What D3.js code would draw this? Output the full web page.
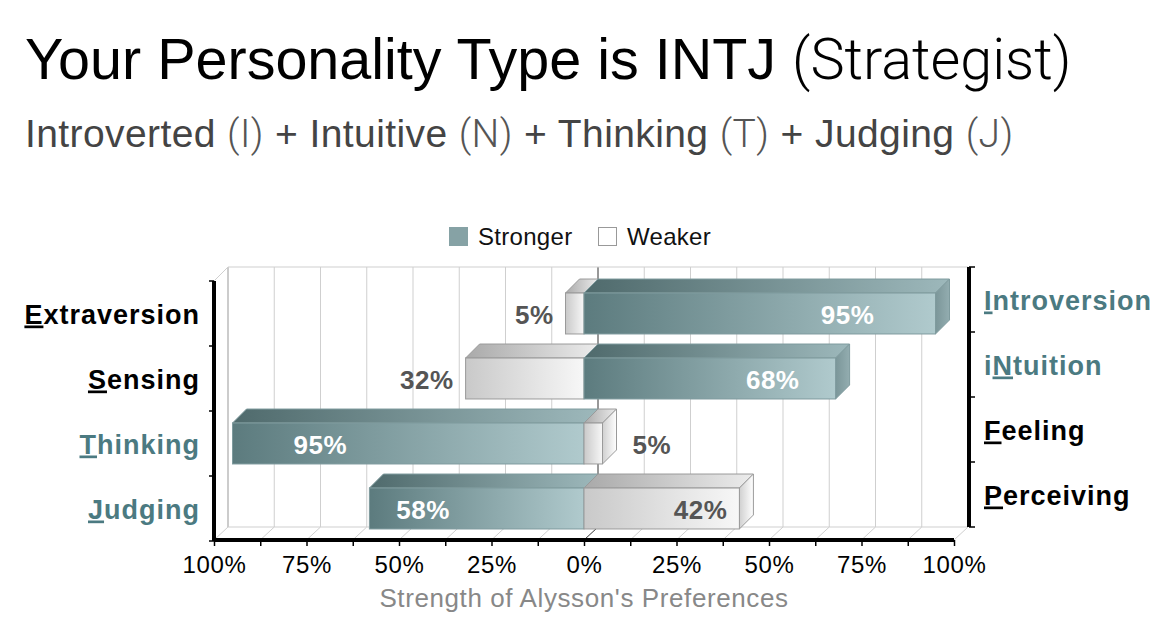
<!DOCTYPE html>
<html>
<head>
<meta charset="utf-8">
<script src="https://cdn.jsdelivr.net/npm/d3@7"></script>
<style>
  body { margin: 0; background: #fff; }
  svg { display: block; }
</style>
</head>
<body>
<div id="chart"></div>
<script>
// DATA
const leftTraits = ["Extraversion", "Sensing", "Thinking", "Judging"];
const rightTraits = ["Introversion", "iNtuition", "Feeling", "Perceiving"];
const leftUnderline = [0, 0, 0, 0];   // index of the underlined letter
const rightUnderline = [0, 1, 0, 0];
const leftPct = [5, 32, 95, 58];
const rightPct = [95, 68, 5, 42];
const tickValues = [-100, -87.5, -75, -62.5, -50, -37.5, -25, -12.5, 0, 12.5, 25, 37.5, 50, 62.5, 75, 87.5, 100];
const tickLabels = [-100, -75, -50, -25, 0, 25, 50, 75, 100];
const legendItems = ["Stronger", "Weaker"];

const width = 1176, height = 630;
const depth = { x: 14, y: 13 };   // fake 3D offset of the back wall
const teal = "#4b7a81";
const font = "Liberation Sans, Arial, sans-serif";

const svg = d3.select("#chart")
  .append("svg")
    .attr("width", width)
    .attr("height", height);

// + GRADIENTS
const defs = svg.append("defs");
function grad(id, c0, c1) {
  const g = defs.append("linearGradient").attr("id", id);
  g.append("stop").attr("offset", "0%").attr("stop-color", c0);
  g.append("stop").attr("offset", "100%").attr("stop-color", c1);
}
grad("strongFront", "#5c7b7e", "#b0cacd");
grad("strongTop", "#4f6a6c", "#9db8bb");
grad("strongSide", "#7b9699", "#93adb0");
grad("weakFront", "#c9c9c9", "#f7f7f7");
grad("weakTop", "#a9a9a9", "#ececec");
grad("weakSide", "#d0d0d0", "#ffffff");

// + SCALES
const xScale = d3.scaleLinear()
  .domain([-100, 100])
  .range([214, 954]);

const yScale = d3.scaleBand()
  .domain(d3.range(leftTraits.length))
  .range([281, 541])
  .paddingInner(0.37)
  .paddingOuter(0.185);

const rowTop = 281, rowBottom = 541;
const step = yScale.step();

// TITLES
const title = svg.append("text")
  .attr("x", 25).attr("y", 79)
  .attr("font-family", font)
  .attr("font-size", 57.5)
  .attr("fill", "#000");
title.append("tspan").text("Your Personality Type is INTJ ");
title.append("tspan")
  .attr("font-family", "Roboto, sans-serif")
  .attr("font-weight", 300)
  .text("(Strategist)");

const subParts = [["Introverted", "(I)"], ["Intuitive", "(N)"], ["Thinking", "(T)"], ["Judging", "(J)"]];
const sub = svg.append("text")
  .attr("x", 25).attr("y", 147)
  .attr("font-family", font)
  .attr("font-size", 39)
  .attr("letter-spacing", 0.4)
  .attr("fill", "#444");
subParts.forEach((p, i) => {
  sub.append("tspan").text(p[0] + " ");
  sub.append("tspan")
    .attr("font-family", "Roboto, sans-serif")
    .attr("font-weight", 300)
    .attr("fill", "#555")
    .text(p[1]);
  if (i < subParts.length - 1) sub.append("tspan").text(" + ");
});

// LEGEND
const legend = svg.append("g")
  .attr("font-family", font)
  .attr("font-size", 24)
  .attr("letter-spacing", 0.3);
const legendX = [449, 598];
legend.selectAll("rect")
  .data(legendItems)
  .join("rect")
    .attr("x", (d, i) => legendX[i] + 0.5)
    .attr("y", 227.5)
    .attr("width", 18)
    .attr("height", 18)
    .attr("fill", (d, i) => i === 0 ? "#86a2a5" : "#fff")
    .attr("stroke", (d, i) => i === 0 ? "#86a2a5" : "#999");
legend.selectAll("text")
  .data(legendItems)
  .join("text")
    .attr("x", (d, i) => legendX[i] + 29)
    .attr("y", 245)
    .attr("fill", "#111")
    .text(d => d);

// BACK WALL + FLOOR GRID
const grid = svg.append("g").attr("fill", "none");
const backTop = rowTop - depth.y - 1, backBottom = rowBottom - depth.y - 1;
grid.selectAll("line.v")
  .data(tickValues)
  .join("line")
    .attr("class", "v")
    .attr("x1", d => xScale(d) + depth.x)
    .attr("x2", d => xScale(d) + depth.x)
    .attr("y1", backTop)
    .attr("y2", backBottom)
    .attr("stroke", d => d === 0 ? "#333" : (d === -100 ? "#999" : "#cfcfcf"))
    .attr("stroke-width", 1);
grid.selectAll("line.f")
  .data(tickValues)
  .join("line")
    .attr("class", "f")
    .attr("x1", d => xScale(d))
    .attr("x2", d => xScale(d) + depth.x)
    .attr("y1", rowBottom - 1)
    .attr("y2", backBottom)
    .attr("stroke", d => d === 0 ? "#333" : "#cfcfcf");
grid.append("line")
  .attr("x1", xScale(-100) + depth.x).attr("x2", xScale(100) + depth.x)
  .attr("y1", backTop).attr("y2", backTop)
  .attr("stroke", "#cfcfcf");
grid.append("line")
  .attr("x1", xScale(-100) + depth.x).attr("x2", xScale(100) + depth.x)
  .attr("y1", backBottom).attr("y2", backBottom)
  .attr("stroke", "#cfcfcf");
grid.append("line")
  .attr("x1", xScale(-100)).attr("x2", xScale(-100) + depth.x)
  .attr("y1", rowTop).attr("y2", backTop)
  .attr("stroke", "#cfcfcf");

// BARS (one 3D box per value)
const bars = [];
leftPct.forEach((v, i) => {
  bars.push({ row: i, from: -v, to: 0, value: v, strong: v > rightPct[i], side: "left" });
});
rightPct.forEach((v, i) => {
  bars.push({ row: i, from: 0, to: v, value: v, strong: v > leftPct[i], side: "right" });
});

function box(g, d) {
  const x0 = xScale(d.from), x1 = xScale(d.to);
  const y0 = yScale(d.row), y1 = y0 + yScale.bandwidth();
  const kind = d.strong ? "strong" : "weak";
  const edge = d.strong ? "#7f9b9e" : "#9a9a9a";
  // top face
  g.append("path")
    .attr("d", `M${x0},${y0}L${x1},${y0}L${x1 + depth.x},${y0 - depth.y - 1}L${x0 + depth.x},${y0 - depth.y - 1}Z`)
    .attr("fill", `url(#${kind}Top)`)
    .attr("stroke", edge);
  // end face
  g.append("path")
    .attr("d", `M${x1},${y0}L${x1 + depth.x},${y0 - depth.y - 1}L${x1 + depth.x},${y1 - depth.y - 1}L${x1},${y1}Z`)
    .attr("fill", `url(#${kind}Side)`)
    .attr("stroke", edge);
  // front face
  g.append("rect")
    .attr("x", x0).attr("y", y0)
    .attr("width", x1 - x0)
    .attr("height", y1 - y0)
    .attr("fill", `url(#${kind}Front)`)
    .attr("stroke", edge);
}

const barGroup = svg.append("g");
bars.filter(d => d.side === "left").forEach(d => box(barGroup.append("g"), d));
bars.filter(d => d.side === "right").forEach(d => box(barGroup.append("g"), d));

// VALUE LABELS
svg.append("g")
  .attr("font-family", font)
  .attr("font-size", 26)
  .attr("font-weight", "bold")
  .attr("letter-spacing", 0.5)
  .selectAll("text")
  .data(bars)
  .join("text")
    .attr("dy", "0.36em")
    .attr("y", d => yScale(d.row) + yScale.bandwidth() / 2 + 1)
    .attr("x", d => {
      const sign = d.side === "left" ? -1 : 1;
      if (d.value >= 40) return xScale(sign * d.value * 0.75);
      return d.side === "left" ? xScale(-d.value) - 12 : xScale(d.value) + depth.x + 16;
    })
    .attr("text-anchor", d => d.value >= 40 ? "middle" : (d.side === "left" ? "end" : "start"))
    .attr("fill", d => d.strong ? "#fff" : "#555")
    .text(d => d.value + "%");

// AXES
const xAxis = d3.axisBottom(xScale)
  .tickValues(tickValues)
  .tickSize(6)
  .tickFormat(d => tickLabels.includes(d) ? Math.abs(d) + "%" : "");
const xAxisGroup = svg.append("g")
  .attr("transform", `translate(0, ${rowBottom - 1})`)
  .call(xAxis);
xAxisGroup.select(".domain").remove();
xAxisGroup.selectAll(".tick line").attr("stroke", "#000").attr("stroke-width", 1.5);
xAxisGroup.selectAll(".tick text")
  .attr("font-family", font)
  .attr("font-size", 24)
  .attr("letter-spacing", 0.6)
  .attr("fill", "#000")
  .attr("dy", "1.02em");
xAxisGroup.append("line")
  .attr("x1", xScale(-100)).attr("x2", xScale(100))
  .attr("stroke", "#000").attr("stroke-width", 4);

const bandEdges = d3.range(leftTraits.length + 1).map(i => rowTop + i * step);
const leftAxis = svg.append("g");
leftAxis.append("line")
  .attr("x1", 214).attr("x2", 214)
  .attr("y1", rowTop).attr("y2", rowBottom)
  .attr("stroke", "#000").attr("stroke-width", 4);
leftAxis.selectAll("line.t")
  .data(bandEdges)
  .join("line")
    .attr("class", "t")
    .attr("x1", 209).attr("x2", 214)
    .attr("y1", d => d).attr("y2", d => d)
    .attr("stroke", "#000").attr("stroke-width", 1.5);

const rightAxis = svg.append("g");
rightAxis.append("line")
  .attr("x1", 969).attr("x2", 969)
  .attr("y1", backTop).attr("y2", backBottom)
  .attr("stroke", "#000").attr("stroke-width", 4);
rightAxis.selectAll("line.t")
  .data(bandEdges.map(d => d - depth.y - 1))
  .join("line")
    .attr("class", "t")
    .attr("x1", 969).attr("x2", 975)
    .attr("y1", d => d).attr("y2", d => d)
    .attr("stroke", "#000").attr("stroke-width", 1.5);

// TRAIT LABELS
function traitLabel(g, name, ul, x, y, anchor, color) {
  const t = g.append("text")
    .attr("x", x).attr("y", y)
    .attr("text-anchor", anchor)
    .attr("fill", color);
  if (ul > 0) t.append("tspan").text(name.slice(0, ul));
  t.append("tspan").style("text-decoration", "underline").text(name[ul]);
  t.append("tspan").text(name.slice(ul + 1));
}
const traitGroup = svg.append("g")
  .attr("font-family", font)
  .attr("font-size", 27)
  .attr("font-weight", "bold")
  .attr("letter-spacing", 1);
leftTraits.forEach((name, i) => {
  const y = yScale(i) + yScale.bandwidth() / 2 + 10;
  traitLabel(traitGroup, name, leftUnderline[i], 200, y, "end", leftPct[i] > rightPct[i] ? teal : "#000");
});
rightTraits.forEach((name, i) => {
  const y = yScale(i) + yScale.bandwidth() / 2 + 10 - depth.y - 1;
  traitLabel(traitGroup, name, rightUnderline[i], 984, y, "start", rightPct[i] > leftPct[i] ? teal : "#000");
});

// AXIS TITLE
svg.append("text")
  .attr("x", xScale(0))
  .attr("y", 607)
  .attr("text-anchor", "middle")
  .attr("font-family", font)
  .attr("font-size", 26)
  .attr("letter-spacing", 0.6)
  .attr("fill", "#888")
  .text("Strength of Alysson's Preferences");
</script>
</body>
</html>
